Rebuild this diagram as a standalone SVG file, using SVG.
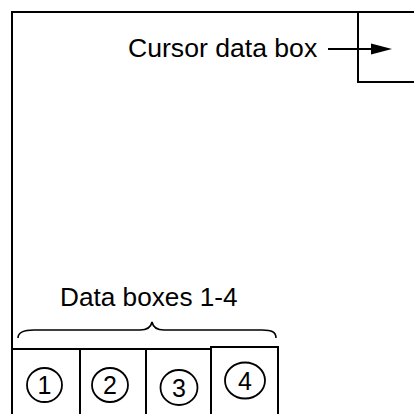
<svg xmlns="http://www.w3.org/2000/svg" width="414" height="414" viewBox="0 0 414 414">
<style>
.ln{fill:none;stroke:#000;stroke-width:2}
.br{fill:none;stroke:#000;stroke-width:1.6}
.c{fill:none;stroke:#000;stroke-width:1.8}
.t{font-family:"Liberation Sans",Arial,sans-serif;fill:#000}
.d{font-size:25px;text-anchor:middle}
</style>
<rect width="414" height="414" fill="#fff"/>
<g id="frame"><path class="ln" d="M12,414 V12 H414"/></g>
<g id="cursor-box"><path class="ln" d="M414,82 H358 V12"/></g>
<g id="cursor-label"><text class="t" x="128" y="57" font-size="26.6">Cursor data box</text></g>
<g id="connectors">
<line x1="328" y1="49" x2="373" y2="49" stroke="#000" stroke-width="2"/>
<polygon points="371,43.5 392,49 371,54.5" fill="#000"/>
</g>
<g id="data-label"><text class="t" x="60" y="306" font-size="26.2">Data boxes 1-4</text>
<path class="br" d="M18,338 C18,332 24,330 34,330 H140 C148,330 151,327 152,322 C153,327 156,330 164,330 H262 C272,330 276,332 276,338"/></g>
<g id="box1"><path class="ln" d="M12,349 H80 V414"/><ellipse class="c" cx="44.5" cy="385" rx="17.5" ry="17"/><text class="t d" x="44.5" y="394">1</text></g>
<g id="box2"><path class="ln" d="M80,349 H146 V414"/><ellipse class="c" cx="110" cy="385" rx="18" ry="17"/><text class="t d" x="110" y="394">2</text></g>
<g id="box3"><path class="ln" d="M146,349 H211 V414"/><ellipse class="c" cx="179" cy="387.5" rx="18.5" ry="17.5"/><text class="t d" x="179" y="396.5">3</text></g>
<g id="box4"><path class="ln" d="M211,414 V347 H278 V414"/><ellipse class="c" cx="245" cy="380.5" rx="20" ry="18"/><text class="t d" x="245" y="389.5" font-size="26px">4</text></g>
</svg>
